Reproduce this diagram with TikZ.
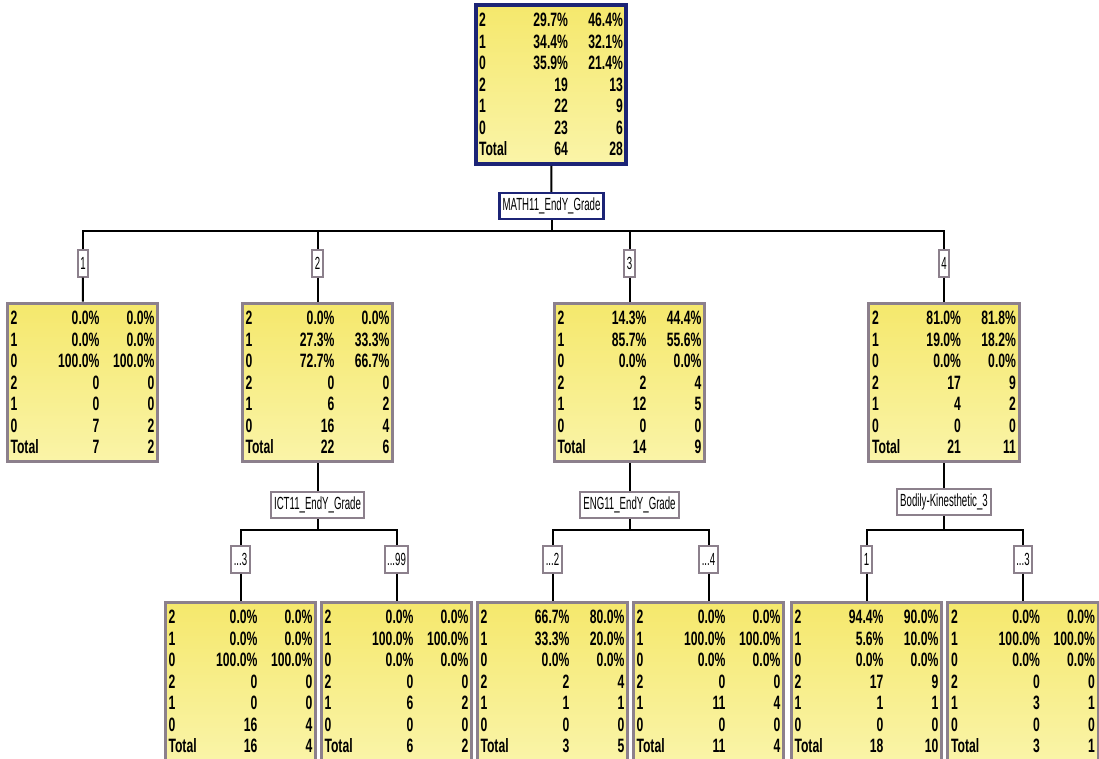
\documentclass[tikz,border=0pt]{standalone}
\usepackage{fontspec}
\usepackage{tikz}
\newfontfamily\cellfont[FakeStretch=0.63]{Liberation Sans}
\newfontfamily\labfont[FakeStretch=0.55]{Liberation Sans}
\definecolor{navy}{RGB}{28,36,118}
\definecolor{cellline}{RGB}{140,128,140}
\definecolor{celltop}{RGB}{245,232,108}
\definecolor{cellbot}{RGB}{250,244,168}
\newcommand{\trow}[3]{\makebox[0.6cm][l]{#1}\makebox[1.18cm][r]{#2}\makebox[1.10cm][r]{#3}}
\newcommand{\stats}[7]{\trow{2}#1\\\trow{1}#2\\\trow{0}#3\\\trow{2}#4\\\trow{1}#5\\\trow{0}#6\\\trow{Total}#7}

\begin{document}
\begin{tikzpicture}
		[x=0.02cm, y=-0.02cm,
		 cell/.style={draw=cellline, line width=0.06cm, top color=celltop, bottom color=cellbot,
			text width=2.88cm, minimum height=3.18cm, inner xsep=0.07cm, inner ysep=0pt, align=left,
			font=\cellfont\bfseries\fontsize{11}{12.2}\selectfont},
		 rootcell/.style={cell, draw=navy, line width=0.08cm},
		 splitlbl/.style={draw=cellline, fill=white, line width=0.04cm, minimum height=0.52cm,
			inner xsep=0.06cm, inner ysep=0pt, font=\labfont\fontsize{10}{11}\selectfont},
		 rootsplit/.style={splitlbl, draw=navy, line width=0.05cm},
		 armlbl/.style={splitlbl, minimum height=0.54cm, inner xsep=0.05cm},
		 wire/.style={draw=black, line width=0.04cm}]

		\useasboundingbox (0,0) rectangle (1099,758);

		% root
		\node[rootcell] (c0) at (551,84.5)
			{\stats{{29.7\%}{46.4\%}}{{34.4\%}{32.1\%}}{{35.9\%}{21.4\%}}{{19}{13}}{{22}{9}}{{23}{6}}{{64}{28}}}
		;

		\node[rootsplit] (v0) at (551.5,206) {MATH11\_EndY\_Grade}
			edge [wire]	(c0)
		;
		\coordinate (j0) at (551.5,231);

		% first split
		\node[cell] (c1) at (82.5,382.5)
			{\stats{{0.0\%}{0.0\%}}{{0.0\%}{0.0\%}}{{100.0\%}{100.0\%}}{{0}{0}}{{0}{0}}{{7}{2}}{{7}{2}}}
		;
		\node[cell] (c2) at (317.5,382.5)
			{\stats{{0.0\%}{0.0\%}}{{27.3\%}{33.3\%}}{{72.7\%}{66.7\%}}{{0}{0}}{{6}{2}}{{16}{4}}{{22}{6}}}
		;
		\node[cell] (c3) at (629.5,382.5)
			{\stats{{14.3\%}{44.4\%}}{{85.7\%}{55.6\%}}{{0.0\%}{0.0\%}}{{2}{4}}{{12}{5}}{{0}{0}}{{14}{9}}}
		;
		\node[cell] (c4) at (944,382.5)
			{\stats{{81.0\%}{81.8\%}}{{19.0\%}{18.2\%}}{{0.0\%}{0.0\%}}{{17}{9}}{{4}{2}}{{0}{0}}{{21}{11}}}
		;

		\node[armlbl] (a1) at (83,263) {1}
			edge [wire]	(c1)
		;
		\node[armlbl] (a2) at (317.5,263) {2}
			edge [wire]	(c2)
		;
		\node[armlbl] (a3) at (629.5,263) {3}
			edge [wire]	(c3)
		;
		\node[armlbl] (a4) at (944,263) {4}
			edge [wire]	(c4)
		;

		\draw[wire] (v0) -- (j0);
		\draw[wire] (j0) -| (a1);
		\draw[wire] (j0) -| (a2);
		\draw[wire] (j0) -| (a3);
		\draw[wire] (j0) -| (a4);

		% second split
		\node[splitlbl] (v2) at (317.5,505) {ICT11\_EndY\_Grade}
			edge [wire]	(c2)
		;
		\node[splitlbl] (v3) at (629.5,505) {ENG11\_EndY\_Grade}
			edge [wire]	(c3)
		;
		\node[splitlbl] (v4) at (944,502) {Bodily-Kinesthetic\_3}
			edge [wire]	(c4)
		;
		\coordinate (j2) at (317.5,530);
		\coordinate (j3) at (629.5,530);
		\coordinate (j4) at (944,530);

		% leaves
		\node[cell] (l21) at (240.5,681.5)
			{\stats{{0.0\%}{0.0\%}}{{0.0\%}{0.0\%}}{{100.0\%}{100.0\%}}{{0}{0}}{{0}{0}}{{16}{4}}{{16}{4}}}
		;
		\node[cell] (l22) at (396.5,681.5)
			{\stats{{0.0\%}{0.0\%}}{{100.0\%}{100.0\%}}{{0.0\%}{0.0\%}}{{0}{0}}{{6}{2}}{{0}{0}}{{6}{2}}}
		;
		\node[cell] (l31) at (552.5,681.5)
			{\stats{{66.7\%}{80.0\%}}{{33.3\%}{20.0\%}}{{0.0\%}{0.0\%}}{{2}{4}}{{1}{1}}{{0}{0}}{{3}{5}}}
		;
		\node[cell] (l32) at (708.5,681.5)
			{\stats{{0.0\%}{0.0\%}}{{100.0\%}{100.0\%}}{{0.0\%}{0.0\%}}{{0}{0}}{{11}{4}}{{0}{0}}{{11}{4}}}
		;
		\node[cell] (l41) at (866.5,681.5)
			{\stats{{94.4\%}{90.0\%}}{{5.6\%}{10.0\%}}{{0.0\%}{0.0\%}}{{17}{9}}{{1}{1}}{{0}{0}}{{18}{10}}}
		;
		\node[cell] (l42) at (1023,681.5)
			{\stats{{0.0\%}{0.0\%}}{{100.0\%}{100.0\%}}{{0.0\%}{0.0\%}}{{0}{0}}{{3}{1}}{{0}{0}}{{3}{1}}}
		;

		\node[armlbl] (a21) at (240.5,559) {...3}
			edge [wire]	(l21)
		;
		\node[armlbl] (a22) at (396.5,559) {...99}
			edge [wire]	(l22)
		;
		\node[armlbl] (a31) at (552.5,559) {...2}
			edge [wire]	(l31)
		;
		\node[armlbl] (a32) at (708.5,559) {...4}
			edge [wire]	(l32)
		;
		\node[armlbl] (a41) at (866.5,559) {1}
			edge [wire]	(l41)
		;
		\node[armlbl] (a42) at (1023,559) {...3}
			edge [wire]	(l42)
		;

		\draw[wire] (v2) -- (j2);
		\draw[wire] (j2) -| (a21);
		\draw[wire] (j2) -| (a22);
		\draw[wire] (v3) -- (j3);
		\draw[wire] (j3) -| (a31);
		\draw[wire] (j3) -| (a32);
		\draw[wire] (v4) -- (j4);
		\draw[wire] (j4) -| (a41);
		\draw[wire] (j4) -| (a42);

	\end{tikzpicture}
\end{document}
